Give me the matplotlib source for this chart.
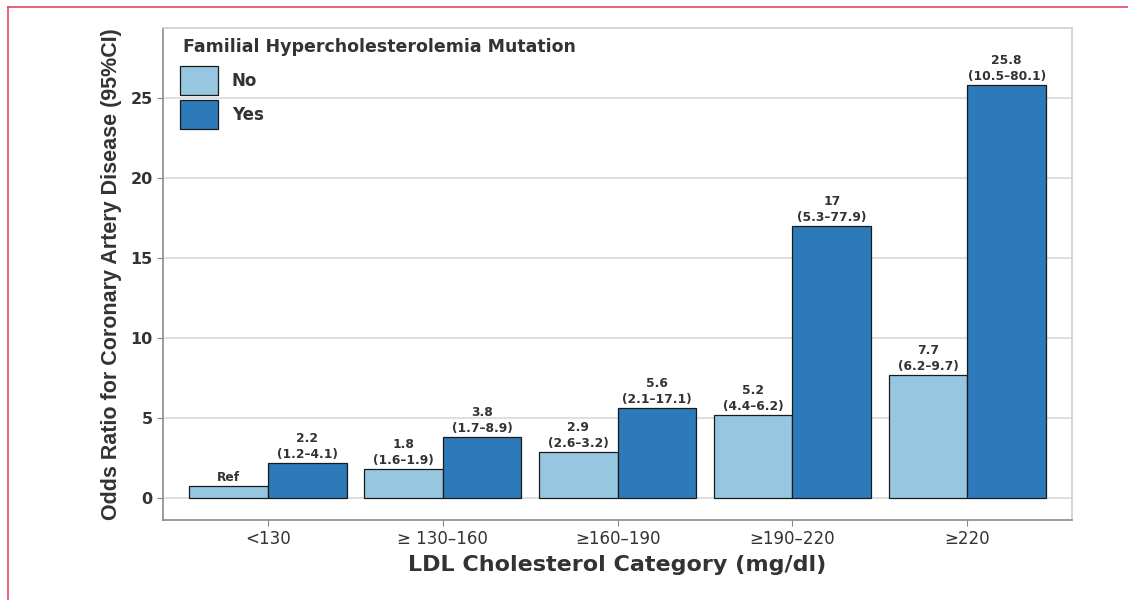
import matplotlib
matplotlib.use("Agg")
import matplotlib.pyplot as plt
import numpy as np
from matplotlib.lines import Line2D

plt.rcParams["font.family"] = ["DejaVu Sans"]

categories = ["<130", "\u2265 130\u2013160", "\u2265160\u2013190", "\u2265190\u2013220", "\u2265220"]
or_no = [0.75, 1.8, 2.9, 5.2, 7.7]
or_yes = [2.2, 3.8, 5.6, 17, 25.8]
label_no = ["Ref", "1.8\n(1.6\u20131.9)", "2.9\n(2.6\u20133.2)", "5.2\n(4.4\u20136.2)", "7.7\n(6.2\u20139.7)"]
label_yes = ["2.2\n(1.2\u20134.1)", "3.8\n(1.7\u20138.9)", "5.6\n(2.1\u201317.1)",
             "17\n(5.3\u201377.9)", "25.8\n(10.5\u201380.1)"]
y_ticks = [0, 5, 10, 15, 20, 25]

COLOR_NO = "#96c6e0"
COLOR_YES = "#2d7aba"
TEXT = "#333333"

fig = plt.figure(figsize=(11.28, 6), dpi=100)
ax = fig.add_axes([0.1445, 0.1333, 0.806, 0.82])

x = np.arange(len(categories))
w = 0.45
bars_no = ax.bar(x - w / 2, or_no, w, color=COLOR_NO, edgecolor="#1a1a1a",
                 linewidth=0.9, label="No", zorder=3)
bars_yes = ax.bar(x + w / 2, or_yes, w, color=COLOR_YES, edgecolor="#1a1a1a",
                  linewidth=0.9, label="Yes", zorder=3)

for bars, labels in ((bars_no, label_no), (bars_yes, label_yes)):
    for b, lab in zip(bars, labels):
        ax.annotate(lab, (b.get_x() + b.get_width() / 2, b.get_height()),
                    xytext=(0, 1.5), textcoords="offset points",
                    ha="center", va="bottom", fontsize=8.8, fontweight="bold",
                    color=TEXT, linespacing=1.3)

ax.set_xlim(-0.6, 4.6)
ax.set_ylim(-1.375, 29.375)
ax.set_yticks(y_ticks)
ax.set_xticks(x)
ax.set_xticklabels(categories, fontsize=12, color=TEXT)
for t in ax.get_yticklabels():
    t.set_fontweight("bold")
ax.tick_params(axis="y", labelsize=11.5, labelcolor=TEXT, colors="#888888", length=4)
ax.tick_params(axis="x", colors="#888888", labelcolor=TEXT, length=4, pad=3)
ax.grid(axis="y", color="#d9d9d9", linewidth=1.2, zorder=0)
ax.set_axisbelow(True)

for side in ("left", "bottom"):
    ax.spines[side].set_color("#8a8a8a")
    ax.spines[side].set_linewidth(1.2)
for side in ("top", "right"):
    ax.spines[side].set_color("#cfcfcf")
    ax.spines[side].set_linewidth(1.2)

ax.set_xlabel("LDL Cholesterol Category (mg/dl)", fontsize=16, fontweight="bold",
              color=TEXT, labelpad=5)
ax.set_ylabel("Odds Ratio for Coronary Artery Disease (95%CI)", fontsize=15.5,
              fontweight="bold", color=TEXT, labelpad=6,
              family=["Liberation Sans", "DejaVu Sans"])

# legend: title as its own text, boxes below it
ax.text(0.022, 0.9614, "Familial Hypercholesterolemia Mutation", transform=ax.transAxes,
        ha="left", va="center", fontsize=12.5, fontweight="bold", color=TEXT)
leg = ax.legend(loc="upper left", bbox_to_anchor=(0.0187, 0.9228),
                borderaxespad=0, borderpad=0, frameon=False, fontsize=12,
                handlelength=2.3, handleheight=2.3, labelspacing=0.31,
                handletextpad=0.8)
for t in leg.get_texts():
    t.set_fontweight("bold")
    t.set_color(TEXT)

# pink frame from the page
fig.add_artist(Line2D([8 / 1128, 1], [1 - 7 / 600, 1 - 7 / 600],
                      transform=fig.transFigure, color="#e8455e", linewidth=1.2))
fig.add_artist(Line2D([8 / 1128, 8 / 1128], [0, 1 - 7 / 600],
                      transform=fig.transFigure, color="#e8455e", linewidth=1.2))

fig.savefig("out.png", dpi=100)
